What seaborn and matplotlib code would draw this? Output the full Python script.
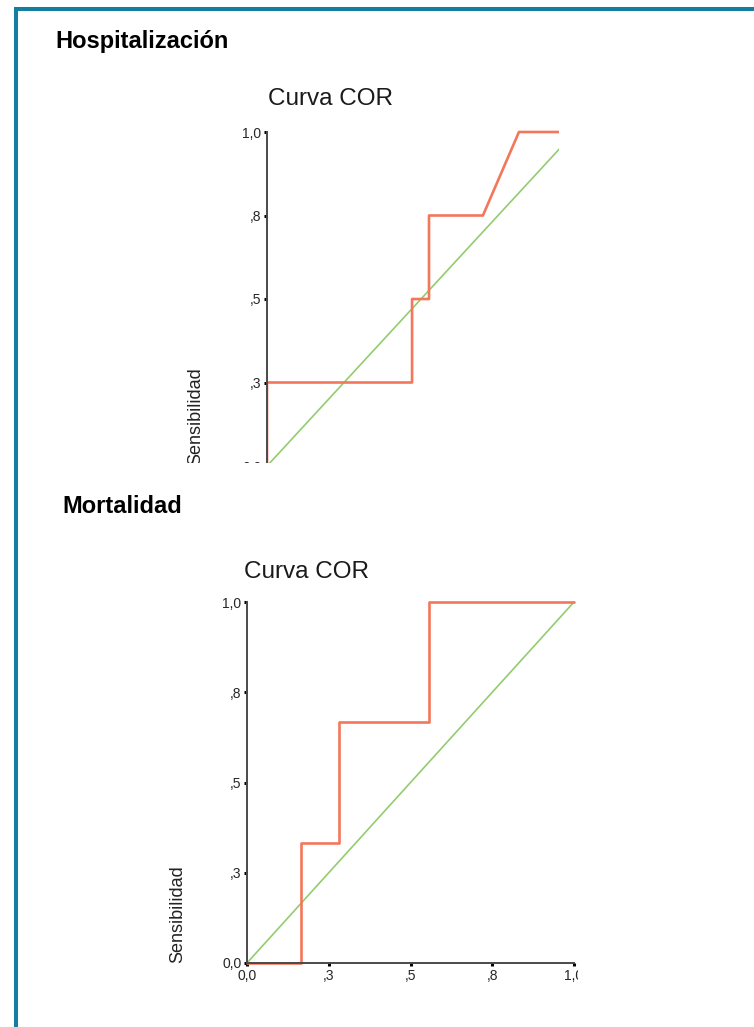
import matplotlib
matplotlib.use("Agg")
import matplotlib.pyplot as plt
import seaborn as sns
import pandas as pd
from matplotlib.lines import Line2D
from matplotlib.patches import Rectangle

# ---- data ----
hosp_fpr = [0.0, 0.0, 0.471, 0.471, 0.526, 0.526, 0.701, 0.818, 1.0]
hosp_sens = [0.0, 0.25, 0.25, 0.5, 0.5, 0.75, 0.75, 1.0, 1.0]
mort_fpr = [0.0, 0.165, 0.165, 0.281, 0.281, 0.556, 0.556, 1.0]
mort_sens = [0.0, 0.0, 0.333, 0.333, 0.667, 0.667, 1.0, 1.0]
diag = [0.0, 1.0]
tick_vals = [0.0, 0.25, 0.5, 0.75, 1.0]
tick_labels = ["0,0", ",3", ",5", ",8", "1,0"]
panel_titles = ["Hospitalización", "Mortalidad"]
chart_title = "Curva COR"
ylabel = "Sensibilidad"

sns.set_style("white")
plt.rcParams["font.family"] = ["Liberation Sans", "DejaVu Sans"]

W, H = 754, 1027
fig = plt.figure(figsize=(W / 100, H / 100), dpi=100)
fx = lambda px: px / W
fy = lambda py: 1 - py / H

RED = "#F3775A"
GREEN = "#93CC6E"
AXC = "#4a4a4a"
TEAL = "#137FA0"


def style_axis(ax, show_x):
    for s in ["top", "right"]:
        ax.spines[s].set_visible(False)
    ax.spines["left"].set_bounds(0, 1)
    ax.spines["left"].set_color(AXC)
    ax.spines["left"].set_linewidth(1.4)
    ax.set_yticks(tick_vals)
    ax.set_yticklabels(tick_labels)
    if show_x:
        ax.spines["bottom"].set_bounds(0, 1)
        ax.spines["bottom"].set_color(AXC)
        ax.spines["bottom"].set_linewidth(1.4)
        ax.set_xticks(tick_vals)
        ax.set_xticklabels(tick_labels)
    else:
        ax.spines["bottom"].set_visible(False)
        ax.set_xticks([])
    ax.tick_params(axis="both", direction="out", length=2, width=2.2,
                   color="black", pad=2, labelsize=10, labelcolor="#262626",
                   left=True, bottom=show_x)
    ax.set_xlabel("")
    ax.set_ylabel("")
    ax.set_facecolor("none")


# ---- top panel (Hospitalización), clipped as in the reference ----
ax1 = fig.add_axes([fx(267), fy(466), fx(559) - fx(267), 1.03 * 334 / H])
sns.lineplot(x=diag, y=diag, ax=ax1, color=GREEN, lw=1.2, sort=False, estimator=None)
sns.lineplot(x=hosp_fpr, y=hosp_sens, ax=ax1, color=RED, lw=1.9, sort=False, estimator=None)
ax1.set_xlim(0, (559 - 267) / 308)
ax1.set_ylim(0, 1.03)
style_axis(ax1, show_x=False)

# ---- bottom panel (Mortalidad) ----
ax2 = fig.add_axes([fx(247), fy(963), 1.02 * 327 / W, 1.02 * 361 / H])
sns.lineplot(x=diag, y=diag, ax=ax2, color=GREEN, lw=1.2, sort=False, estimator=None)
sns.lineplot(x=mort_fpr, y=mort_sens, ax=ax2, color=RED, lw=1.9, sort=False, estimator=None)
ax2.set_xlim(0, 1.02)
ax2.set_ylim(0, 1.02)
for ln in ax2.lines:
    ln.set_clip_on(False)
style_axis(ax2, show_x=True)

# ---- titles and labels ----
fig.text(fx(330), fy(99), chart_title, ha="center", va="center", fontsize=17.5, color="#1a1a1a")
fig.text(fx(307), fy(572), chart_title, ha="center", va="center", fontsize=17.5, color="#1a1a1a")
fig.text(fx(196), fy(465), ylabel, rotation=90, ha="center", va="bottom", fontsize=13, color="#222222")
fig.text(fx(178), fy(963), ylabel, rotation=90, ha="center", va="bottom", fontsize=13, color="#222222")
fig.text(fx(55), fy(48), panel_titles[0], ha="left", va="baseline", fontsize=17, fontweight="bold", color="black")
fig.text(fx(62), fy(513), panel_titles[1], ha="left", va="baseline", fontsize=17, fontweight="bold", color="black")

# ---- clipping masks (the reference image cuts the charts) ----
fig.add_artist(Rectangle((fx(20), fy(478)), fx(754) - fx(20), 15 / H,
                         transform=fig.transFigure, facecolor="white", edgecolor="none", zorder=10))
fig.add_artist(Rectangle((fx(578), fy(1000)), fx(754) - fx(578), 35 / H,
                         transform=fig.transFigure, facecolor="white", edgecolor="none", zorder=10))

# ---- teal frame ----
fig.add_artist(Line2D([fx(16), fx(16)], [fy(7), 0], transform=fig.transFigure,
                      color=TEAL, lw=2.9, solid_capstyle="butt", zorder=11))
fig.add_artist(Line2D([fx(14), 1], [fy(9), fy(9)], transform=fig.transFigure,
                      color=TEAL, lw=2.9, solid_capstyle="butt", zorder=11))

fig.savefig("out.png", dpi=100)
